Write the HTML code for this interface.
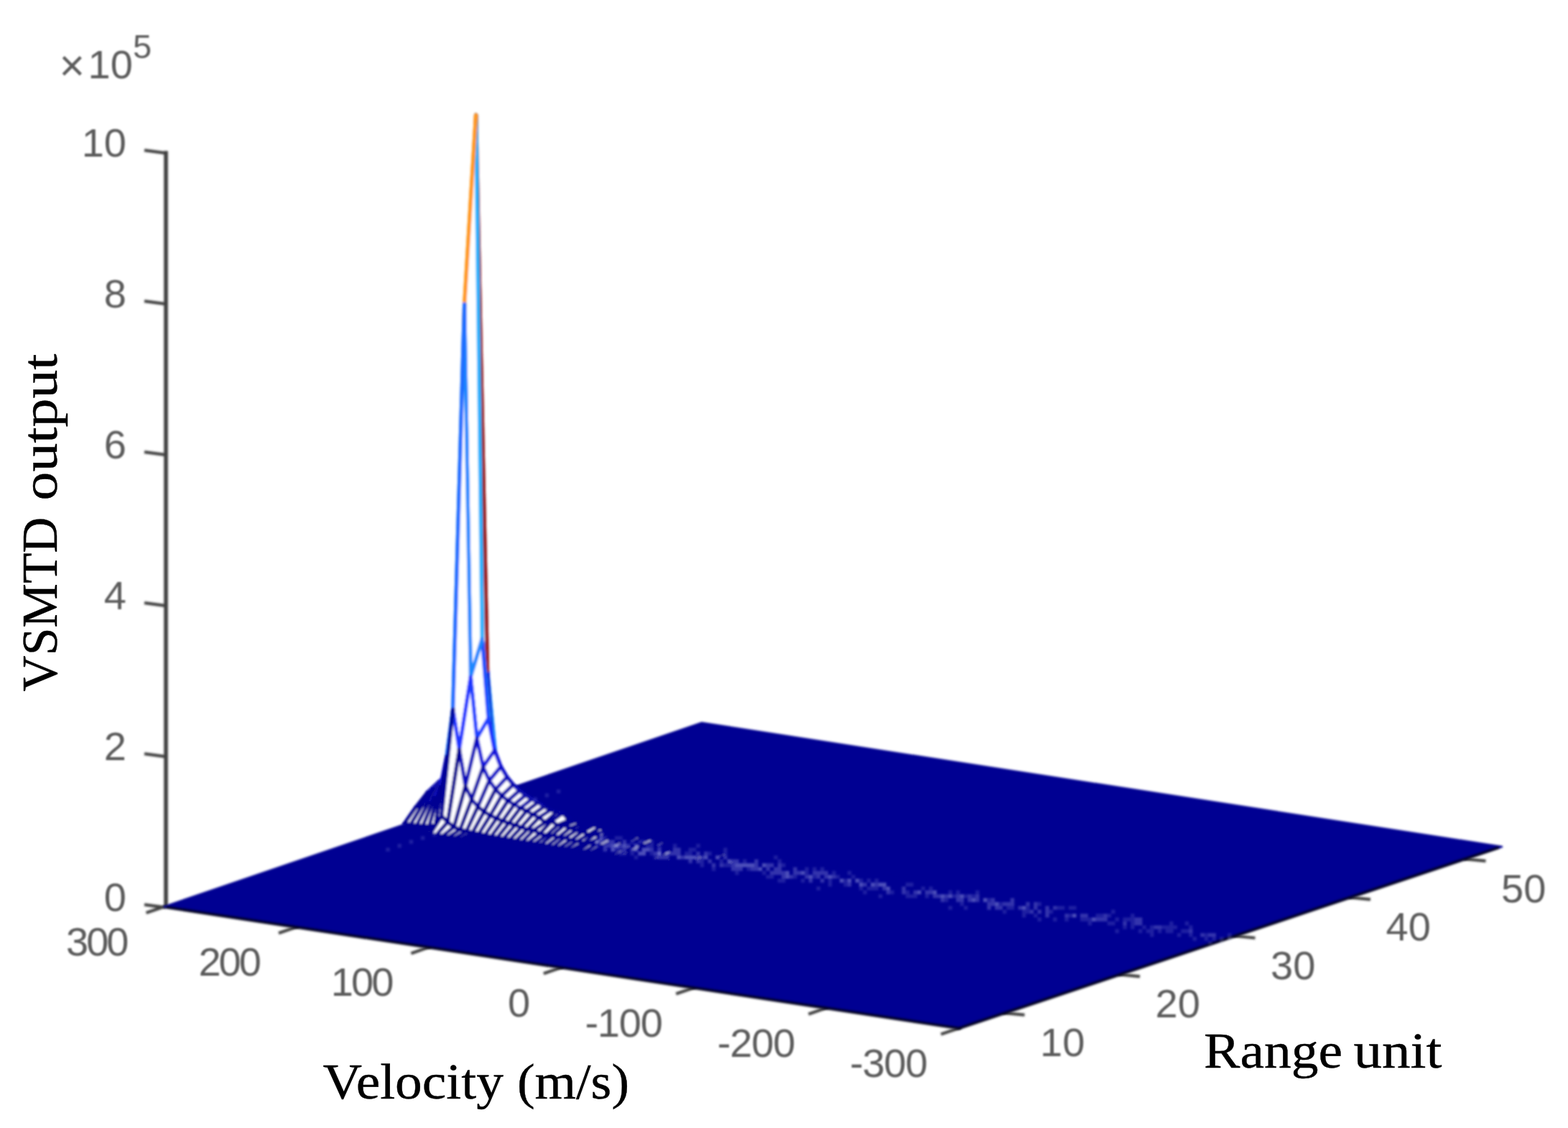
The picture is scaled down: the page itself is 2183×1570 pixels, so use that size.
<!DOCTYPE html>
<html lang="en"><head><meta charset="utf-8"><title>VSMTD output</title>
<style>html,body{margin:0;padding:0;background:#fff;overflow:hidden}svg{display:block}.tl{font-family:"Liberation Sans",sans-serif;font-size:56px;fill:#5c5c5c}.ax{font-family:"Liberation Serif",serif;font-size:70px;fill:#000;stroke:#000;stroke-width:0.4px}</style></head><body>
<svg width="2183" height="1570" viewBox="0 0 2183 1570">
<defs><filter id="b1" x="-5%" y="-5%" width="110%" height="110%"><feGaussianBlur stdDeviation="1.6"/></filter><filter id="b2" x="-20%" y="-20%" width="140%" height="140%"><feGaussianBlur stdDeviation="1.3"/></filter><filter id="b4" x="-20%" y="-20%" width="140%" height="140%"><feGaussianBlur stdDeviation="1.7"/></filter><filter id="b3" x="-5%" y="-5%" width="110%" height="110%"><feGaussianBlur stdDeviation="1.4"/></filter></defs>
<rect width="2183" height="1570" fill="#fff"/>
<g filter="url(#b1)" stroke="#404040" stroke-width="5.6" fill="none" stroke-linecap="butt">
<line x1="231" y1="210" x2="231" y2="1263"/>
<line x1="231" y1="1263.2" x2="201" y2="1259.2" stroke-width="4.2"/>
<line x1="231" y1="1053.2" x2="201" y2="1049.2" stroke-width="4.2"/>
<line x1="231" y1="843.2" x2="201" y2="839.2" stroke-width="4.2"/>
<line x1="231" y1="633.2" x2="201" y2="629.2" stroke-width="4.2"/>
<line x1="231" y1="423.2" x2="201" y2="419.2" stroke-width="4.2"/>
<line x1="231" y1="213.2" x2="201" y2="209.2" stroke-width="4.2"/>
<line x1="231.5" y1="1261.0" x2="203.5" y2="1270.6" stroke-width="4.2"/>
<line x1="415.9" y1="1289.2" x2="387.9" y2="1298.8" stroke-width="4.2"/>
<line x1="600.3" y1="1317.3" x2="572.3" y2="1326.9" stroke-width="4.2"/>
<line x1="784.8" y1="1345.5" x2="756.8" y2="1355.1" stroke-width="4.2"/>
<line x1="969.2" y1="1373.7" x2="941.2" y2="1383.3" stroke-width="4.2"/>
<line x1="1153.6" y1="1401.8" x2="1125.6" y2="1411.4" stroke-width="4.2"/>
<line x1="1338.0" y1="1430.0" x2="1310.0" y2="1439.6" stroke-width="4.2"/>
<line x1="2038.0" y1="1195.3" x2="2068.5" y2="1198.3" stroke-width="4.2"/>
<line x1="1877.5" y1="1248.9" x2="1908.0" y2="1251.9" stroke-width="4.2"/>
<line x1="1717.0" y1="1302.5" x2="1747.5" y2="1305.5" stroke-width="4.2"/>
<line x1="1556.5" y1="1356.1" x2="1587.0" y2="1359.1" stroke-width="4.2"/>
<line x1="1396.0" y1="1409.7" x2="1426.5" y2="1412.7" stroke-width="4.2"/>
</g>
<g filter="url(#b1)">
<polygon points="228.5,1262.0 977.0,1006.0 2091.0,1178.5 1335.0,1431.0" fill="#000092" stroke="#000092" stroke-width="2.6" stroke-linejoin="round"/>
<polyline points="231.5,1262.6 1335.0,1431.2 2087.0,1179.5" fill="none" stroke="#04041c" stroke-opacity="0.9" stroke-width="4.4" stroke-linejoin="round"/>
</g>
<g filter="url(#b4)" fill="#fff" stroke="#000092" stroke-width="5.3" stroke-linecap="round" stroke-linejoin="round">
<path d="M651.2 1119.5L659.9 1120.3 675.8 1117.6 667.1 1116.3Z"/>
<path d="M659.9 1120.3L668.5 1120.7 684.4 1118.9 675.8 1117.6Z"/>
<path d="M668.5 1120.7L677.1 1120.4 693.1 1120.2 684.4 1118.9Z"/>
<path d="M677.1 1120.4L685.8 1117.4 701.7 1121.5 693.1 1120.2Z"/>
<path d="M685.8 1117.4L694.4 1098.9 710.4 1122.9 701.7 1121.5Z" stroke="none"/>
<path d="M685.8 1117.4L694.4 1098.9" stroke="#08089b"/>
<path d="M694.4 1098.9L710.4 1122.9" stroke="#08089b"/>
<path d="M710.4 1122.9L701.7 1121.5"/>
<path d="M701.7 1121.5L685.8 1117.4"/>
<path d="M694.4 1098.9L703.1 1119.6 719 1124.2 710.4 1122.9Z" stroke="none"/>
<path d="M694.4 1098.9L703.1 1119.6"/>
<path d="M703.1 1119.6L719 1124.2"/>
<path d="M719 1124.2L710.4 1122.9"/>
<path d="M710.4 1122.9L694.4 1098.9" stroke="#08089b"/>
<path d="M703.1 1119.6L711.7 1125.4 727.6 1125.5 719 1124.2Z"/>
<path d="M711.7 1125.4L720.4 1128.3 736.3 1126.8 727.6 1125.5Z"/>
<path d="M720.4 1128.3L729 1130.5 744.9 1128.1 736.3 1126.8Z"/>
<path d="M729 1130.5L737.7 1132.3 753.6 1129.5 744.9 1128.1Z"/>
<path d="M737.7 1132.3L746.3 1134 762.2 1130.8 753.6 1129.5Z"/>
<path d="M626.6 1111L635.3 1109.4 651.2 1119.5 642.6 1118.5Z"/>
<path d="M635.3 1109.4L643.9 1106.5 659.9 1120.3 651.2 1119.5Z" stroke="none"/>
<path d="M635.3 1109.4L643.9 1106.5" stroke="#06069a"/>
<path d="M643.9 1106.5L659.9 1120.3" stroke="#06069a"/>
<path d="M659.9 1120.3L651.2 1119.5"/>
<path d="M651.2 1119.5L635.3 1109.4"/>
<path d="M643.9 1106.5L652.6 1101 668.5 1120.7 659.9 1120.3Z" stroke="none"/>
<path d="M643.9 1106.5L652.6 1101" stroke="#07079a"/>
<path d="M652.6 1101L668.5 1120.7" stroke="#07079a"/>
<path d="M668.5 1120.7L659.9 1120.3"/>
<path d="M659.9 1120.3L643.9 1106.5" stroke="#06069a"/>
<path d="M652.6 1101L661.2 1089.2 677.1 1120.4 668.5 1120.7Z" stroke="none"/>
<path d="M652.6 1101L661.2 1089.2" stroke="#0b0bab"/>
<path d="M661.2 1089.2L677.1 1120.4" stroke="#0b0bab"/>
<path d="M677.1 1120.4L668.5 1120.7"/>
<path d="M668.5 1120.7L652.6 1101" stroke="#07079a"/>
<path d="M661.2 1089.2L669.9 1055.6 685.8 1117.4 677.1 1120.4Z" stroke="none"/>
<path d="M661.2 1089.2L669.9 1055.6" stroke="#1414da"/>
<path d="M669.9 1055.6L685.8 1117.4" stroke="#1414da"/>
<path d="M685.8 1117.4L677.1 1120.4"/>
<path d="M677.1 1120.4L661.2 1089.2" stroke="#0b0bab"/>
<path d="M669.9 1055.6L678.5 933.2 694.4 1098.9 685.8 1117.4Z" stroke="none"/>
<path d="M669.9 1055.6L678.5 933.2" stroke="#1f88ff"/>
<path d="M678.5 933.2L694.4 1098.9" stroke="#1f88ff"/>
<path d="M694.4 1098.9L685.8 1117.4" stroke="#08089b"/>
<path d="M685.8 1117.4L669.9 1055.6" stroke="#1414da"/>
<path d="M678.5 933.2L687.2 1072.3 703.1 1119.6 694.4 1098.9Z" stroke="none"/>
<path d="M678.5 933.2L687.2 1072.3" stroke="#1010cb"/>
<path d="M687.2 1072.3L703.1 1119.6" stroke="#1010cb"/>
<path d="M703.1 1119.6L694.4 1098.9"/>
<path d="M694.4 1098.9L678.5 933.2" stroke="#1f88ff"/>
<path d="M687.2 1072.3L695.8 1101.6 711.7 1125.4 703.1 1119.6Z" stroke="none"/>
<path d="M687.2 1072.3L695.8 1101.6" stroke="#0909aa"/>
<path d="M695.8 1101.6L711.7 1125.4" stroke="#0909aa"/>
<path d="M711.7 1125.4L703.1 1119.6"/>
<path d="M703.1 1119.6L687.2 1072.3" stroke="#1010cb"/>
<path d="M695.8 1101.6L704.4 1113 720.4 1128.3 711.7 1125.4Z" stroke="none"/>
<path d="M695.8 1101.6L704.4 1113" stroke="#06069a"/>
<path d="M704.4 1113L720.4 1128.3" stroke="#06069a"/>
<path d="M720.4 1128.3L711.7 1125.4"/>
<path d="M711.7 1125.4L695.8 1101.6" stroke="#0909aa"/>
<path d="M704.4 1113L713.1 1119.7 729 1130.5 720.4 1128.3Z" stroke="none"/>
<path d="M704.4 1113L713.1 1119.7"/>
<path d="M713.1 1119.7L729 1130.5"/>
<path d="M729 1130.5L720.4 1128.3"/>
<path d="M720.4 1128.3L704.4 1113" stroke="#06069a"/>
<path d="M713.1 1119.7L721.7 1124.4 737.7 1132.3 729 1130.5Z"/>
<path d="M721.7 1124.4L730.4 1128 746.3 1134 737.7 1132.3Z"/>
<path d="M730.4 1128L739 1131 754.9 1135.6 746.3 1134Z"/>
<path d="M739 1131L747.7 1133.6 763.6 1137.2 754.9 1135.6Z"/>
<path d="M747.7 1133.6L756.3 1135.9 772.2 1138.6 763.6 1137.2Z"/>
<path d="M756.3 1135.9L765 1138.1 780.9 1140.1 772.2 1138.6Z"/>
<path d="M765 1138.1L773.6 1140.5 789.5 1141.6 780.9 1140.1Z"/>
<path d="M773.6 1140.5L782.2 1142.7 798.2 1143 789.5 1141.6Z"/>
<path d="M782.2 1142.7L790.9 1145.7 806.8 1144.7 798.2 1143Z"/>
<path d="M790.9 1145.7L799.5 1145.7 815.5 1146 806.8 1144.7Z"/>
<path d="M799.5 1145.7L808.2 1147.8 824.1 1147.4 815.5 1146Z"/>
<path d="M808.2 1147.8L816.8 1150 832.7 1148.6 824.1 1147.4Z"/>
<path d="M816.8 1150L825.5 1151.3 841.4 1150.2 832.7 1148.6Z"/>
<path d="M825.5 1151.3L834.1 1153.9 850 1151.3 841.4 1150.2Z"/>
<path d="M834.1 1153.9L842.8 1155 858.7 1152.8 850 1151.3Z"/>
<path d="M842.8 1155L851.4 1157.4 867.3 1154.3 858.7 1152.8Z"/>
<path d="M851.4 1157.4L860 1158.8 876 1155.4 867.3 1154.3Z"/>
<path d="M860 1158.8L868.7 1160.1 884.6 1156.9 876 1155.4Z"/>
<path d="M868.7 1160.1L877.3 1161.8 893.3 1158.2 884.6 1156.9Z"/>
<path d="M610.7 1088.5L619.4 1081.6 635.3 1109.4 626.6 1111Z" stroke="none"/>
<path d="M610.7 1088.5L619.4 1081.6" stroke="#0d0dbb"/>
<path d="M619.4 1081.6L635.3 1109.4" stroke="#0d0dbb"/>
<path d="M635.3 1109.4L626.6 1111"/>
<path d="M626.6 1111L610.7 1088.5" stroke="#0b0bab"/>
<path d="M619.4 1081.6L628 1070.8 643.9 1106.5 635.3 1109.4Z" stroke="none"/>
<path d="M619.4 1081.6L628 1070.8" stroke="#1010cb"/>
<path d="M628 1070.8L643.9 1106.5" stroke="#1010cb"/>
<path d="M643.9 1106.5L635.3 1109.4" stroke="#06069a"/>
<path d="M635.3 1109.4L619.4 1081.6" stroke="#0d0dbb"/>
<path d="M628 1070.8L636.6 1052.4 652.6 1101 643.9 1106.5Z" stroke="none"/>
<path d="M628 1070.8L636.6 1052.4" stroke="#1616db"/>
<path d="M636.6 1052.4L652.6 1101" stroke="#1616db"/>
<path d="M652.6 1101L643.9 1106.5" stroke="#07079a"/>
<path d="M643.9 1106.5L628 1070.8" stroke="#1010cb"/>
<path d="M636.6 1052.4L645.3 1016 661.2 1089.2 652.6 1101Z" stroke="none"/>
<path d="M636.6 1052.4L645.3 1016" stroke="#1f42ff"/>
<path d="M645.3 1016L661.2 1089.2" stroke="#1f42ff"/>
<path d="M661.2 1089.2L652.6 1101" stroke="#0b0bab"/>
<path d="M652.6 1101L636.6 1052.4" stroke="#1616db"/>
<path d="M645.3 1016L653.9 916.9 669.9 1055.6 661.2 1089.2Z" stroke="none"/>
<path d="M645.3 1016L653.9 916.9" stroke="#1f96ff"/>
<path d="M653.9 916.9L669.9 1055.6" stroke="#1f96ff"/>
<path d="M669.9 1055.6L661.2 1089.2" stroke="#1414da"/>
<path d="M661.2 1089.2L645.3 1016" stroke="#1f42ff"/>
<path d="M653.9 916.9L662.6 160.1 678.5 933.2 669.9 1055.6Z" stroke="none"/>
<path d="M653.9 916.9L662.6 160.1" stroke="#961f1f"/>
<path d="M662.6 160.1L678.5 933.2" stroke="#961f1f"/>
<path d="M678.5 933.2L669.9 1055.6" stroke="#1f88ff"/>
<path d="M669.9 1055.6L653.9 916.9" stroke="#1f96ff"/>
<path d="M662.6 160.1L671.2 889.6 687.2 1072.3 678.5 933.2Z" stroke="none"/>
<path d="M662.6 160.1L671.2 889.6" stroke="#1fb2ff"/>
<path d="M671.2 889.6L687.2 1072.3" stroke="#1fb2ff"/>
<path d="M687.2 1072.3L678.5 933.2" stroke="#1010cb"/>
<path d="M678.5 933.2L662.6 160.1" stroke="#961f1f"/>
<path d="M671.2 889.6L679.9 1000.1 695.8 1101.6 687.2 1072.3Z" stroke="none"/>
<path d="M671.2 889.6L679.9 1000.1" stroke="#1f50ff"/>
<path d="M679.9 1000.1L695.8 1101.6" stroke="#1f50ff"/>
<path d="M695.8 1101.6L687.2 1072.3" stroke="#0909aa"/>
<path d="M687.2 1072.3L671.2 889.6" stroke="#1fb2ff"/>
<path d="M679.9 1000.1L688.5 1044.4 704.4 1113 695.8 1101.6Z" stroke="none"/>
<path d="M679.9 1000.1L688.5 1044.4" stroke="#1f34ff"/>
<path d="M688.5 1044.4L704.4 1113" stroke="#1f34ff"/>
<path d="M704.4 1113L695.8 1101.6" stroke="#06069a"/>
<path d="M695.8 1101.6L679.9 1000.1" stroke="#1f50ff"/>
<path d="M688.5 1044.4L697.2 1067.2 713.1 1119.7 704.4 1113Z" stroke="none"/>
<path d="M688.5 1044.4L697.2 1067.2" stroke="#1414da"/>
<path d="M697.2 1067.2L713.1 1119.7" stroke="#1414da"/>
<path d="M713.1 1119.7L704.4 1113"/>
<path d="M704.4 1113L688.5 1044.4" stroke="#1f34ff"/>
<path d="M697.2 1067.2L705.8 1081.8 721.7 1124.4 713.1 1119.7Z" stroke="none"/>
<path d="M697.2 1067.2L705.8 1081.8" stroke="#1111cb"/>
<path d="M705.8 1081.8L721.7 1124.4" stroke="#1111cb"/>
<path d="M721.7 1124.4L713.1 1119.7"/>
<path d="M713.1 1119.7L697.2 1067.2" stroke="#1414da"/>
<path d="M705.8 1081.8L714.4 1092.3 730.4 1128 721.7 1124.4Z" stroke="none"/>
<path d="M705.8 1081.8L714.4 1092.3" stroke="#0e0ebb"/>
<path d="M714.4 1092.3L730.4 1128" stroke="#0e0ebb"/>
<path d="M730.4 1128L721.7 1124.4"/>
<path d="M721.7 1124.4L705.8 1081.8" stroke="#1111cb"/>
<path d="M714.4 1092.3L723.1 1100.4 739 1131 730.4 1128Z" stroke="none"/>
<path d="M714.4 1092.3L723.1 1100.4" stroke="#0c0cbb"/>
<path d="M723.1 1100.4L739 1131" stroke="#0c0cbb"/>
<path d="M739 1131L730.4 1128"/>
<path d="M730.4 1128L714.4 1092.3" stroke="#0e0ebb"/>
<path d="M723.1 1100.4L731.7 1106.9 747.7 1133.6 739 1131Z" stroke="none"/>
<path d="M723.1 1100.4L731.7 1106.9" stroke="#0b0bab"/>
<path d="M731.7 1106.9L747.7 1133.6" stroke="#0b0bab"/>
<path d="M747.7 1133.6L739 1131"/>
<path d="M739 1131L723.1 1100.4" stroke="#0c0cbb"/>
<path d="M731.7 1106.9L740.4 1112.3 756.3 1135.9 747.7 1133.6Z" stroke="none"/>
<path d="M731.7 1106.9L740.4 1112.3" stroke="#0a0aab"/>
<path d="M740.4 1112.3L756.3 1135.9" stroke="#0a0aab"/>
<path d="M756.3 1135.9L747.7 1133.6"/>
<path d="M747.7 1133.6L731.7 1106.9" stroke="#0b0bab"/>
<path d="M740.4 1112.3L749 1116.9 765 1138.1 756.3 1135.9Z" stroke="none"/>
<path d="M740.4 1112.3L749 1116.9" stroke="#0909ab"/>
<path d="M749 1116.9L765 1138.1" stroke="#0909ab"/>
<path d="M765 1138.1L756.3 1135.9"/>
<path d="M756.3 1135.9L740.4 1112.3" stroke="#0a0aab"/>
<path d="M749 1116.9L757.7 1122.7 773.6 1140.5 765 1138.1Z" stroke="none"/>
<path d="M749 1116.9L757.7 1122.7" stroke="#0808aa"/>
<path d="M757.7 1122.7L773.6 1140.5" stroke="#0808aa"/>
<path d="M773.6 1140.5L765 1138.1"/>
<path d="M765 1138.1L749 1116.9" stroke="#0909ab"/>
<path d="M757.7 1122.7L766.3 1127.6 782.2 1142.7 773.6 1140.5Z" stroke="none"/>
<path d="M757.7 1122.7L766.3 1127.6" stroke="#07079a"/>
<path d="M766.3 1127.6L782.2 1142.7" stroke="#07079a"/>
<path d="M782.2 1142.7L773.6 1140.5"/>
<path d="M773.6 1140.5L757.7 1122.7" stroke="#0808aa"/>
<path d="M766.3 1127.6L775 1130.6 790.9 1145.7 782.2 1142.7Z" stroke="none"/>
<path d="M766.3 1127.6L775 1130.6" stroke="#07079a"/>
<path d="M775 1130.6L790.9 1145.7" stroke="#07079a"/>
<path d="M790.9 1145.7L782.2 1142.7"/>
<path d="M782.2 1142.7L766.3 1127.6" stroke="#07079a"/>
<path d="M775 1130.6L783.6 1131.7 799.5 1145.7 790.9 1145.7Z" stroke="none"/>
<path d="M775 1130.6L783.6 1131.7" stroke="#07079a"/>
<path d="M783.6 1131.7L799.5 1145.7" stroke="#07079a"/>
<path d="M799.5 1145.7L790.9 1145.7"/>
<path d="M790.9 1145.7L775 1130.6" stroke="#07079a"/>
<path d="M783.6 1131.7L792.2 1141.7 808.2 1147.8 799.5 1145.7Z" stroke="none"/>
<path d="M783.6 1131.7L792.2 1141.7"/>
<path d="M792.2 1141.7L808.2 1147.8"/>
<path d="M808.2 1147.8L799.5 1145.7"/>
<path d="M799.5 1145.7L783.6 1131.7" stroke="#07079a"/>
<path d="M792.2 1141.7L800.9 1143.1 816.8 1150 808.2 1147.8Z"/>
<path d="M800.9 1143.1L809.5 1146.5 825.5 1151.3 816.8 1150Z"/>
<path d="M809.5 1146.5L818.2 1147.9 834.1 1153.9 825.5 1151.3Z"/>
<path d="M818.2 1147.9L826.8 1148.6 842.8 1155 834.1 1153.9Z"/>
<path d="M826.8 1148.6L835.5 1151.5 851.4 1157.4 842.8 1155Z"/>
<path d="M835.5 1151.5L844.1 1156.6 860 1158.8 851.4 1157.4Z"/>
<path d="M844.1 1156.6L852.8 1157.6 868.7 1160.1 860 1158.8Z"/>
<path d="M852.8 1157.6L861.4 1160.3 877.3 1161.8 868.7 1160.1Z"/>
<path d="M861.4 1160.3L870 1161.5 886 1163.3 877.3 1161.8Z"/>
<path d="M870 1161.5L878.7 1163 894.6 1164.8 886 1163.3Z"/>
<path d="M878.7 1163L887.3 1163 903.3 1165.8 894.6 1164.8Z"/>
<path d="M887.3 1163L896 1165.3 911.9 1167.6 903.3 1165.8Z"/>
<path d="M896 1165.3L904.6 1166.4 920.6 1168.8 911.9 1167.6Z"/>
<path d="M904.6 1166.4L913.3 1169.9 929.2 1170.1 920.6 1168.8Z"/>
<path d="M913.3 1169.9L921.9 1170.2 937.8 1171.8 929.2 1170.1Z"/>
<path d="M921.9 1170.2L930.6 1172.4 946.5 1173.1 937.8 1171.8Z"/>
<path d="M930.6 1172.4L939.2 1174.2 955.1 1174.1 946.5 1173.1Z"/>
<path d="M939.2 1174.2L947.8 1176.4 963.8 1175.6 955.1 1174.1Z"/>
<path d="M947.8 1176.4L956.5 1178.3 972.4 1176.8 963.8 1175.6Z"/>
<path d="M956.5 1178.3L965.1 1179.5 981.1 1178.5 972.4 1176.8Z"/>
<path d="M965.1 1179.5L973.8 1179.8 989.7 1179.8 981.1 1178.5Z"/>
<path d="M973.8 1179.8L982.4 1182 998.4 1181 989.7 1179.8Z"/>
<path d="M982.4 1182L991.1 1184 1007 1182.5 998.4 1181Z"/>
<path d="M991.1 1184L999.7 1185.5 1015.6 1183.8 1007 1182.5Z"/>
<path d="M999.7 1185.5L1008.4 1186.1 1024.3 1185.2 1015.6 1183.8Z"/>
<path d="M1008.4 1186.1L1017 1188.7 1032.9 1186.8 1024.3 1185.2Z"/>
<path d="M1017 1188.7L1025.7 1189.5 1041.6 1188 1032.9 1186.8Z"/>
<path d="M1025.7 1189.5L1034.3 1192.2 1050.2 1189.4 1041.6 1188Z"/>
<path d="M1034.3 1192.2L1042.9 1192 1058.9 1190.7 1050.2 1189.4Z"/>
<path d="M1042.9 1192L1051.6 1194.6 1067.5 1192.2 1058.9 1190.7Z"/>
<path d="M1051.6 1194.6L1060.2 1195 1076.2 1193.4 1067.5 1192.2Z"/>
<path d="M1060.2 1195L1068.9 1197.2 1084.8 1194.8 1076.2 1193.4Z"/>
<path d="M1068.9 1197.2L1077.5 1199.4 1093.4 1196.2 1084.8 1194.8Z"/>
<path d="M1077.5 1199.4L1086.2 1200.7 1102.1 1197.6 1093.4 1196.2Z"/>
<path d="M1086.2 1200.7L1094.8 1201.8 1110.7 1198.9 1102.1 1197.6Z"/>
<path d="M1094.8 1201.8L1103.5 1202.5 1119.4 1200.1 1110.7 1198.9Z"/>
<path d="M1103.5 1202.5L1112.1 1204.3 1128 1201.6 1119.4 1200.1Z"/>
<path d="M1112.1 1204.3L1120.7 1205.5 1136.7 1202.9 1128 1201.6Z"/>
<path d="M1120.7 1205.5L1129.4 1206.6 1145.3 1204.2 1136.7 1202.9Z"/>
<path d="M1129.4 1206.6L1138 1208.3 1154 1205.6 1145.3 1204.2Z"/>
<path d="M1138 1208.3L1146.7 1209.9 1162.6 1207 1154 1205.6Z"/>
<path d="M1146.7 1209.9L1155.3 1210.9 1171.2 1208.2 1162.6 1207Z"/>
<path d="M1155.3 1210.9L1164 1213 1179.9 1209.6 1171.2 1208.2Z"/>
<path d="M1164 1213L1172.6 1214 1188.5 1210.8 1179.9 1209.6Z"/>
<path d="M1172.6 1214L1181.3 1215.3 1197.2 1212.1 1188.5 1210.8Z"/>
<path d="M1181.3 1215.3L1189.9 1216.7 1205.8 1213.5 1197.2 1212.1Z"/>
<path d="M1189.9 1216.7L1198.5 1218.4 1214.5 1215 1205.8 1213.5Z"/>
<path d="M1198.5 1218.4L1207.2 1219.5 1223.1 1216.3 1214.5 1215Z"/>
<path d="M1207.2 1219.5L1215.8 1221.2 1231.8 1217.7 1223.1 1216.3Z"/>
<path d="M1215.8 1221.2L1224.5 1222.5 1240.4 1218.9 1231.8 1217.7Z"/>
<path d="M1224.5 1222.5L1233.1 1223.6 1249 1220.2 1240.4 1218.9Z"/>
<path d="M1233.1 1223.6L1241.8 1225.3 1257.7 1221.7 1249 1220.2Z"/>
<path d="M1250.4 1227L1259.1 1227.6 1275 1224.3 1266.3 1223Z"/>
<path d="M1259.1 1227.6L1267.7 1229.5 1283.6 1225.6 1275 1224.3Z"/>
<path d="M594.8 1103.3L603.4 1098.1 619.4 1081.6 610.7 1088.5Z" stroke="none"/>
<path d="M594.8 1103.3L603.4 1098.1" stroke="#0a0aab"/>
<path d="M603.4 1098.1L619.4 1081.6" stroke="#0a0aab"/>
<path d="M619.4 1081.6L610.7 1088.5" stroke="#0d0dbb"/>
<path d="M610.7 1088.5L594.8 1103.3" stroke="#0909aa"/>
<path d="M603.4 1098.1L612.1 1090 628 1070.8 619.4 1081.6Z" stroke="none"/>
<path d="M603.4 1098.1L612.1 1090" stroke="#0d0dbb"/>
<path d="M612.1 1090L628 1070.8" stroke="#0d0dbb"/>
<path d="M628 1070.8L619.4 1081.6" stroke="#1010cb"/>
<path d="M619.4 1081.6L603.4 1098.1" stroke="#0a0aab"/>
<path d="M612.1 1090L620.7 1075.8 636.6 1052.4 628 1070.8Z" stroke="none"/>
<path d="M612.1 1090L620.7 1075.8" stroke="#1111cb"/>
<path d="M620.7 1075.8L636.6 1052.4" stroke="#1111cb"/>
<path d="M636.6 1052.4L628 1070.8" stroke="#1616db"/>
<path d="M628 1070.8L612.1 1090" stroke="#0d0dbb"/>
<path d="M620.7 1075.8L629.4 1047.7 645.3 1016 636.6 1052.4Z" stroke="none"/>
<path d="M620.7 1075.8L629.4 1047.7" stroke="#1919e9"/>
<path d="M629.4 1047.7L645.3 1016" stroke="#1919e9"/>
<path d="M645.3 1016L636.6 1052.4" stroke="#1f42ff"/>
<path d="M636.6 1052.4L620.7 1075.8" stroke="#1111cb"/>
<path d="M629.4 1047.7L638 970.4 653.9 916.9 645.3 1016Z" stroke="none"/>
<path d="M629.4 1047.7L638 970.4" stroke="#1f6cff"/>
<path d="M638 970.4L653.9 916.9" stroke="#1f6cff"/>
<path d="M653.9 916.9L645.3 1016" stroke="#1f96ff"/>
<path d="M645.3 1016L629.4 1047.7" stroke="#1919e9"/>
<path d="M638 970.4L646.7 423.3 662.6 160.1 653.9 916.9Z" stroke="none"/>
<path d="M638 970.4L646.7 423.3" stroke="#ff961f"/>
<path d="M646.7 423.3L662.6 160.1" stroke="#ff961f"/>
<path d="M662.6 160.1L653.9 916.9" stroke="#961f1f"/>
<path d="M653.9 916.9L638 970.4" stroke="#1f6cff"/>
<path d="M646.7 423.3L655.3 942.3 671.2 889.6 662.6 160.1Z" stroke="none"/>
<path d="M646.7 423.3L655.3 942.3" stroke="#1f88ff"/>
<path d="M655.3 942.3L671.2 889.6" stroke="#1f88ff"/>
<path d="M671.2 889.6L662.6 160.1" stroke="#1fb2ff"/>
<path d="M662.6 160.1L646.7 423.3" stroke="#ff961f"/>
<path d="M655.3 942.3L663.9 1027.6 679.9 1000.1 671.2 889.6Z" stroke="none"/>
<path d="M655.3 942.3L663.9 1027.6" stroke="#1f42ff"/>
<path d="M663.9 1027.6L679.9 1000.1" stroke="#1f42ff"/>
<path d="M679.9 1000.1L671.2 889.6" stroke="#1f50ff"/>
<path d="M671.2 889.6L655.3 942.3" stroke="#1f88ff"/>
<path d="M663.9 1027.6L672.6 1067.6 688.5 1044.4 679.9 1000.1Z" stroke="none"/>
<path d="M663.9 1027.6L672.6 1067.6" stroke="#1515da"/>
<path d="M672.6 1067.6L688.5 1044.4" stroke="#1515da"/>
<path d="M688.5 1044.4L679.9 1000.1" stroke="#1f34ff"/>
<path d="M679.9 1000.1L663.9 1027.6" stroke="#1f42ff"/>
<path d="M672.6 1067.6L681.2 1086.5 697.2 1067.2 688.5 1044.4Z" stroke="none"/>
<path d="M672.6 1067.6L681.2 1086.5" stroke="#1010cb"/>
<path d="M681.2 1086.5L697.2 1067.2" stroke="#1010cb"/>
<path d="M697.2 1067.2L688.5 1044.4" stroke="#1414da"/>
<path d="M688.5 1044.4L672.6 1067.6" stroke="#1515da"/>
<path d="M681.2 1086.5L689.9 1098.8 705.8 1081.8 697.2 1067.2Z" stroke="none"/>
<path d="M681.2 1086.5L689.9 1098.8" stroke="#0e0ebb"/>
<path d="M689.9 1098.8L705.8 1081.8" stroke="#0e0ebb"/>
<path d="M705.8 1081.8L697.2 1067.2" stroke="#1111cb"/>
<path d="M697.2 1067.2L681.2 1086.5" stroke="#1010cb"/>
<path d="M689.9 1098.8L698.5 1107.7 714.4 1092.3 705.8 1081.8Z" stroke="none"/>
<path d="M689.9 1098.8L698.5 1107.7" stroke="#0c0cab"/>
<path d="M698.5 1107.7L714.4 1092.3" stroke="#0c0cab"/>
<path d="M714.4 1092.3L705.8 1081.8" stroke="#0e0ebb"/>
<path d="M705.8 1081.8L689.9 1098.8" stroke="#0e0ebb"/>
<path d="M698.5 1107.7L707.2 1114.5 723.1 1100.4 714.4 1092.3Z" stroke="none"/>
<path d="M698.5 1107.7L707.2 1114.5" stroke="#0a0aab"/>
<path d="M707.2 1114.5L723.1 1100.4" stroke="#0a0aab"/>
<path d="M723.1 1100.4L714.4 1092.3" stroke="#0c0cbb"/>
<path d="M714.4 1092.3L698.5 1107.7" stroke="#0c0cab"/>
<path d="M707.2 1114.5L715.8 1120 731.7 1106.9 723.1 1100.4Z" stroke="none"/>
<path d="M707.2 1114.5L715.8 1120" stroke="#0909aa"/>
<path d="M715.8 1120L731.7 1106.9" stroke="#0909aa"/>
<path d="M731.7 1106.9L723.1 1100.4" stroke="#0b0bab"/>
<path d="M723.1 1100.4L707.2 1114.5" stroke="#0a0aab"/>
<path d="M715.8 1120L724.5 1124.7 740.4 1112.3 731.7 1106.9Z" stroke="none"/>
<path d="M715.8 1120L724.5 1124.7" stroke="#0808aa"/>
<path d="M724.5 1124.7L740.4 1112.3" stroke="#0808aa"/>
<path d="M740.4 1112.3L731.7 1106.9" stroke="#0a0aab"/>
<path d="M731.7 1106.9L715.8 1120" stroke="#0909aa"/>
<path d="M724.5 1124.7L733.1 1128.8 749 1116.9 740.4 1112.3Z" stroke="none"/>
<path d="M724.5 1124.7L733.1 1128.8" stroke="#08089a"/>
<path d="M733.1 1128.8L749 1116.9" stroke="#08089a"/>
<path d="M749 1116.9L740.4 1112.3" stroke="#0909ab"/>
<path d="M740.4 1112.3L724.5 1124.7" stroke="#0808aa"/>
<path d="M733.1 1128.8L741.7 1133.7 757.7 1122.7 749 1116.9Z" stroke="none"/>
<path d="M733.1 1128.8L741.7 1133.7" stroke="#07079a"/>
<path d="M741.7 1133.7L757.7 1122.7" stroke="#07079a"/>
<path d="M757.7 1122.7L749 1116.9" stroke="#0808aa"/>
<path d="M749 1116.9L733.1 1128.8" stroke="#08089a"/>
<path d="M741.7 1133.7L750.4 1137.9 766.3 1127.6 757.7 1122.7Z" stroke="none"/>
<path d="M741.7 1133.7L750.4 1137.9" stroke="#06069a"/>
<path d="M750.4 1137.9L766.3 1127.6" stroke="#06069a"/>
<path d="M766.3 1127.6L757.7 1122.7" stroke="#07079a"/>
<path d="M757.7 1122.7L741.7 1133.7" stroke="#07079a"/>
<path d="M750.4 1137.9L759 1144.6 775 1130.6 766.3 1127.6Z" stroke="none"/>
<path d="M750.4 1137.9L759 1144.6"/>
<path d="M759 1144.6L775 1130.6"/>
<path d="M775 1130.6L766.3 1127.6" stroke="#07079a"/>
<path d="M766.3 1127.6L750.4 1137.9" stroke="#06069a"/>
<path d="M759 1144.6L767.7 1143.1 783.6 1131.7 775 1130.6Z" stroke="none"/>
<path d="M759 1144.6L767.7 1143.1" stroke="#05059a"/>
<path d="M767.7 1143.1L783.6 1131.7" stroke="#05059a"/>
<path d="M783.6 1131.7L775 1130.6" stroke="#07079a"/>
<path d="M775 1130.6L759 1144.6"/>
<path d="M767.7 1143.1L776.3 1148.4 792.2 1141.7 783.6 1131.7Z" stroke="none"/>
<path d="M767.7 1143.1L776.3 1148.4"/>
<path d="M776.3 1148.4L792.2 1141.7"/>
<path d="M792.2 1141.7L783.6 1131.7"/>
<path d="M783.6 1131.7L767.7 1143.1" stroke="#05059a"/>
<path d="M776.3 1148.4L785 1148.9 800.9 1143.1 792.2 1141.7Z"/>
<path d="M785 1148.9L793.6 1152.7 809.5 1146.5 800.9 1143.1Z"/>
<path d="M793.6 1152.7L802.3 1155.7 818.2 1147.9 809.5 1146.5Z"/>
<path d="M802.3 1155.7L810.9 1157.5 826.8 1148.6 818.2 1147.9Z"/>
<path d="M810.9 1157.5L819.5 1161.5 835.5 1151.5 826.8 1148.6Z"/>
<path d="M819.5 1161.5L828.2 1161.1 844.1 1156.6 835.5 1151.5Z"/>
<path d="M828.2 1161.1L836.8 1165.4 852.8 1157.6 844.1 1156.6Z"/>
<path d="M836.8 1165.4L845.5 1166.5 861.4 1160.3 852.8 1157.6Z"/>
<path d="M845.5 1166.5L854.1 1169.2 870 1161.5 861.4 1160.3Z"/>
<path d="M854.1 1169.2L862.8 1170 878.7 1163 870 1161.5Z"/>
<path d="M862.8 1170L871.4 1172.4 887.3 1163 878.7 1163Z"/>
<path d="M871.4 1172.4L880.1 1173.7 896 1165.3 887.3 1163Z"/>
<path d="M880.1 1173.7L888.7 1174.7 904.6 1166.4 896 1165.3Z"/>
<path d="M888.7 1174.7L897.3 1177.2 913.3 1169.9 904.6 1166.4Z"/>
<path d="M897.3 1177.2L906 1178.4 921.9 1170.2 913.3 1169.9Z"/>
<path d="M906 1178.4L914.6 1180.1 930.6 1172.4 921.9 1170.2Z"/>
<path d="M914.6 1180.1L923.3 1181.2 939.2 1174.2 930.6 1172.4Z"/>
<path d="M923.3 1181.2L931.9 1182.5 947.8 1176.4 939.2 1174.2Z"/>
<path d="M931.9 1182.5L940.6 1184.9 956.5 1178.3 947.8 1176.4Z"/>
<path d="M940.6 1184.9L949.2 1186.3 965.1 1179.5 956.5 1178.3Z"/>
<path d="M949.2 1186.3L957.9 1188.2 973.8 1179.8 965.1 1179.5Z"/>
<path d="M957.9 1188.2L966.5 1189.5 982.4 1182 973.8 1179.8Z"/>
<path d="M966.5 1189.5L975.1 1189.9 991.1 1184 982.4 1182Z"/>
<path d="M975.1 1189.9L983.8 1192.6 999.7 1185.5 991.1 1184Z"/>
<path d="M983.8 1192.6L992.4 1193.4 1008.4 1186.1 999.7 1185.5Z"/>
<path d="M992.4 1193.4L1001.1 1195.4 1017 1188.7 1008.4 1186.1Z"/>
<path d="M1001.1 1195.4L1009.7 1196.5 1025.7 1189.5 1017 1188.7Z"/>
<path d="M1009.7 1196.5L1018.4 1197 1034.3 1192.2 1025.7 1189.5Z"/>
<path d="M1018.4 1197L1027 1199.3 1042.9 1192 1034.3 1192.2Z"/>
<path d="M1027 1199.3L1035.7 1200.3 1051.6 1194.6 1042.9 1192Z"/>
<path d="M1035.7 1200.3L1044.3 1201.7 1060.2 1195 1051.6 1194.6Z"/>
<path d="M1044.3 1201.7L1052.9 1202.7 1068.9 1197.2 1060.2 1195Z"/>
<path d="M1052.9 1202.7L1061.6 1204.9 1077.5 1199.4 1068.9 1197.2Z"/>
<path d="M1061.6 1204.9L1070.2 1206.2 1086.2 1200.7 1077.5 1199.4Z"/>
<path d="M1070.2 1206.2L1078.9 1207.8 1094.8 1201.8 1086.2 1200.7Z"/>
<path d="M1078.9 1207.8L1087.5 1208.9 1103.5 1202.5 1094.8 1201.8Z"/>
<path d="M1087.5 1208.9L1096.2 1209.8 1112.1 1204.3 1103.5 1202.5Z"/>
<path d="M1096.2 1209.8L1104.8 1212.1 1120.7 1205.5 1112.1 1204.3Z"/>
<path d="M1104.8 1212.1L1113.5 1212.9 1129.4 1206.6 1120.7 1205.5Z"/>
<path d="M1113.5 1212.9L1122.1 1214.9 1138 1208.3 1129.4 1206.6Z"/>
<path d="M1122.1 1214.9L1130.7 1216 1146.7 1209.9 1138 1208.3Z"/>
<path d="M1130.7 1216L1139.4 1217.7 1155.3 1210.9 1146.7 1209.9Z"/>
<path d="M1139.4 1217.7L1148 1218.7 1164 1213 1155.3 1210.9Z"/>
<path d="M1148 1218.7L1156.7 1220.2 1172.6 1214 1164 1213Z"/>
<path d="M1156.7 1220.2L1165.3 1221.5 1181.3 1215.3 1172.6 1214Z"/>
<path d="M1165.3 1221.5L1174 1222.6 1189.9 1216.7 1181.3 1215.3Z"/>
<path d="M1174 1222.6L1182.6 1224.5 1198.5 1218.4 1189.9 1216.7Z"/>
<path d="M1182.6 1224.5L1191.3 1225.5 1207.2 1219.5 1198.5 1218.4Z"/>
<path d="M1191.3 1225.5L1199.9 1227.3 1215.8 1221.2 1207.2 1219.5Z"/>
<path d="M1199.9 1227.3L1208.5 1228.5 1224.5 1222.5 1215.8 1221.2Z"/>
<path d="M1208.5 1228.5L1217.2 1229.7 1233.1 1223.6 1224.5 1222.5Z"/>
<path d="M1217.2 1229.7L1225.8 1230.9 1241.8 1225.3 1233.1 1223.6Z"/>
<path d="M1234.5 1232.5L1243.1 1233.5 1259.1 1227.6 1250.4 1227Z"/>
<path d="M1243.1 1233.5L1251.8 1234.9 1267.7 1229.5 1259.1 1227.6Z"/>
<path d="M578.9 1123.6L587.5 1121.3 603.4 1098.1 594.8 1103.3Z" stroke="none"/>
<path d="M578.9 1123.6L587.5 1121.3" stroke="#06069a"/>
<path d="M587.5 1121.3L603.4 1098.1" stroke="#06069a"/>
<path d="M603.4 1098.1L594.8 1103.3" stroke="#0a0aab"/>
<path d="M594.8 1103.3L578.9 1123.6"/>
<path d="M587.5 1121.3L596.2 1117.4 612.1 1090 603.4 1098.1Z" stroke="none"/>
<path d="M587.5 1121.3L596.2 1117.4" stroke="#07079a"/>
<path d="M596.2 1117.4L612.1 1090" stroke="#07079a"/>
<path d="M612.1 1090L603.4 1098.1" stroke="#0d0dbb"/>
<path d="M603.4 1098.1L587.5 1121.3" stroke="#06069a"/>
<path d="M596.2 1117.4L604.8 1110.1 620.7 1075.8 612.1 1090Z" stroke="none"/>
<path d="M596.2 1117.4L604.8 1110.1" stroke="#0909ab"/>
<path d="M604.8 1110.1L620.7 1075.8" stroke="#0909ab"/>
<path d="M620.7 1075.8L612.1 1090" stroke="#1111cb"/>
<path d="M612.1 1090L596.2 1117.4" stroke="#07079a"/>
<path d="M604.8 1110.1L613.4 1095 629.4 1047.7 620.7 1075.8Z" stroke="none"/>
<path d="M604.8 1110.1L613.4 1095" stroke="#0e0ebb"/>
<path d="M613.4 1095L629.4 1047.7" stroke="#0e0ebb"/>
<path d="M629.4 1047.7L620.7 1075.8" stroke="#1919e9"/>
<path d="M620.7 1075.8L604.8 1110.1" stroke="#0909ab"/>
<path d="M613.4 1095L622.1 1052.7 638 970.4 629.4 1047.7Z" stroke="none"/>
<path d="M613.4 1095L622.1 1052.7" stroke="#1919e9"/>
<path d="M622.1 1052.7L638 970.4" stroke="#1919e9"/>
<path d="M638 970.4L629.4 1047.7" stroke="#1f6cff"/>
<path d="M629.4 1047.7L613.4 1095" stroke="#0e0ebb"/>
<path d="M622.1 1052.7L630.7 987.3 646.7 423.3 638 970.4Z" stroke="none"/>
<path d="M622.1 1052.7L630.7 987.3" stroke="#1f6cff"/>
<path d="M630.7 987.3L646.7 423.3" stroke="#1f6cff"/>
<path d="M646.7 423.3L638 970.4" stroke="#ff961f"/>
<path d="M638 970.4L622.1 1052.7" stroke="#1919e9"/>
<path d="M630.7 987.3L639.4 1043.3 655.3 942.3 646.7 423.3Z" stroke="none"/>
<path d="M630.7 987.3L639.4 1043.3" stroke="#1f34ff"/>
<path d="M639.4 1043.3L655.3 942.3" stroke="#1f34ff"/>
<path d="M655.3 942.3L646.7 423.3" stroke="#1f88ff"/>
<path d="M646.7 423.3L630.7 987.3" stroke="#1f6cff"/>
<path d="M639.4 1043.3L648 1094.2 663.9 1027.6 655.3 942.3Z" stroke="none"/>
<path d="M639.4 1043.3L648 1094.2" stroke="#0f0fbc"/>
<path d="M648 1094.2L663.9 1027.6" stroke="#0f0fbc"/>
<path d="M663.9 1027.6L655.3 942.3" stroke="#1f42ff"/>
<path d="M655.3 942.3L639.4 1043.3" stroke="#1f34ff"/>
<path d="M648 1094.2L656.7 1112.6 672.6 1067.6 663.9 1027.6Z" stroke="none"/>
<path d="M648 1094.2L656.7 1112.6" stroke="#0b0bab"/>
<path d="M656.7 1112.6L672.6 1067.6" stroke="#0b0bab"/>
<path d="M672.6 1067.6L663.9 1027.6" stroke="#1515da"/>
<path d="M663.9 1027.6L648 1094.2" stroke="#0f0fbc"/>
<path d="M656.7 1112.6L665.3 1122.9 681.2 1086.5 672.6 1067.6Z" stroke="none"/>
<path d="M656.7 1112.6L665.3 1122.9" stroke="#0808aa"/>
<path d="M665.3 1122.9L681.2 1086.5" stroke="#0808aa"/>
<path d="M681.2 1086.5L672.6 1067.6" stroke="#1010cb"/>
<path d="M672.6 1067.6L656.7 1112.6" stroke="#0b0bab"/>
<path d="M665.3 1122.9L674 1129.8 689.9 1098.8 681.2 1086.5Z" stroke="none"/>
<path d="M665.3 1122.9L674 1129.8" stroke="#07079a"/>
<path d="M674 1129.8L689.9 1098.8" stroke="#07079a"/>
<path d="M689.9 1098.8L681.2 1086.5" stroke="#0e0ebb"/>
<path d="M681.2 1086.5L665.3 1122.9" stroke="#0808aa"/>
<path d="M674 1129.8L682.6 1135 698.5 1107.7 689.9 1098.8Z" stroke="none"/>
<path d="M674 1129.8L682.6 1135" stroke="#06069a"/>
<path d="M682.6 1135L698.5 1107.7" stroke="#06069a"/>
<path d="M698.5 1107.7L689.9 1098.8" stroke="#0c0cab"/>
<path d="M689.9 1098.8L674 1129.8" stroke="#07079a"/>
<path d="M682.6 1135L691.2 1139.2 707.2 1114.5 698.5 1107.7Z" stroke="none"/>
<path d="M682.6 1135L691.2 1139.2" stroke="#05059a"/>
<path d="M691.2 1139.2L707.2 1114.5" stroke="#05059a"/>
<path d="M707.2 1114.5L698.5 1107.7" stroke="#0a0aab"/>
<path d="M698.5 1107.7L682.6 1135" stroke="#06069a"/>
<path d="M691.2 1139.2L699.9 1142.6 715.8 1120 707.2 1114.5Z" stroke="none"/>
<path d="M691.2 1139.2L699.9 1142.6"/>
<path d="M699.9 1142.6L715.8 1120"/>
<path d="M715.8 1120L707.2 1114.5" stroke="#0909aa"/>
<path d="M707.2 1114.5L691.2 1139.2" stroke="#05059a"/>
<path d="M699.9 1142.6L708.5 1145.7 724.5 1124.7 715.8 1120Z" stroke="none"/>
<path d="M699.9 1142.6L708.5 1145.7"/>
<path d="M708.5 1145.7L724.5 1124.7"/>
<path d="M724.5 1124.7L715.8 1120" stroke="#0808aa"/>
<path d="M715.8 1120L699.9 1142.6"/>
<path d="M708.5 1145.7L717.2 1148.4 733.1 1128.8 724.5 1124.7Z" stroke="none"/>
<path d="M708.5 1145.7L717.2 1148.4"/>
<path d="M717.2 1148.4L733.1 1128.8"/>
<path d="M733.1 1128.8L724.5 1124.7" stroke="#08089a"/>
<path d="M724.5 1124.7L708.5 1145.7"/>
<path d="M717.2 1148.4L725.8 1151.6 741.7 1133.7 733.1 1128.8Z" stroke="none"/>
<path d="M717.2 1148.4L725.8 1151.6"/>
<path d="M725.8 1151.6L741.7 1133.7"/>
<path d="M741.7 1133.7L733.1 1128.8" stroke="#07079a"/>
<path d="M733.1 1128.8L717.2 1148.4"/>
<path d="M725.8 1151.6L734.5 1154.4 750.4 1137.9 741.7 1133.7Z" stroke="none"/>
<path d="M725.8 1151.6L734.5 1154.4"/>
<path d="M734.5 1154.4L750.4 1137.9"/>
<path d="M750.4 1137.9L741.7 1133.7" stroke="#06069a"/>
<path d="M741.7 1133.7L725.8 1151.6"/>
<path d="M734.5 1154.4L743.1 1155.7 759 1144.6 750.4 1137.9Z"/>
<path d="M743.1 1155.7L751.8 1160.4 767.7 1143.1 759 1144.6Z" stroke="none"/>
<path d="M743.1 1155.7L751.8 1160.4"/>
<path d="M751.8 1160.4L767.7 1143.1"/>
<path d="M767.7 1143.1L759 1144.6" stroke="#05059a"/>
<path d="M759 1144.6L743.1 1155.7"/>
<path d="M751.8 1160.4L760.4 1162.8 776.3 1148.4 767.7 1143.1Z"/>
<path d="M760.4 1162.8L769 1163 785 1148.9 776.3 1148.4Z"/>
<path d="M769 1163L777.7 1165.1 793.6 1152.7 785 1148.9Z"/>
<path d="M777.7 1165.1L786.3 1166.1 802.3 1155.7 793.6 1152.7Z"/>
<path d="M786.3 1166.1L795 1169.3 810.9 1157.5 802.3 1155.7Z"/>
<path d="M795 1169.3L803.6 1171 819.5 1161.5 810.9 1157.5Z"/>
<path d="M803.6 1171L812.3 1173.5 828.2 1161.1 819.5 1161.5Z"/>
<path d="M812.3 1173.5L820.9 1173.4 836.8 1165.4 828.2 1161.1Z"/>
<path d="M820.9 1173.4L829.6 1175.8 845.5 1166.5 836.8 1165.4Z"/>
<path d="M829.6 1175.8L838.2 1178.1 854.1 1169.2 845.5 1166.5Z"/>
<path d="M838.2 1178.1L846.8 1179.1 862.8 1170 854.1 1169.2Z"/>
<path d="M846.8 1179.1L855.5 1180.7 871.4 1172.4 862.8 1170Z"/>
<path d="M855.5 1180.7L864.1 1181.4 880.1 1173.7 871.4 1172.4Z"/>
<path d="M864.1 1181.4L872.8 1183.6 888.7 1174.7 880.1 1173.7Z"/>
<path d="M872.8 1183.6L881.4 1185.6 897.3 1177.2 888.7 1174.7Z"/>
<path d="M881.4 1185.6L890.1 1187 906 1178.4 897.3 1177.2Z"/>
<path d="M890.1 1187L898.7 1188 914.6 1180.1 906 1178.4Z"/>
<path d="M898.7 1188L907.4 1189.5 923.3 1181.2 914.6 1180.1Z"/>
<path d="M907.4 1189.5L916 1190.5 931.9 1182.5 923.3 1181.2Z"/>
<path d="M916 1190.5L924.6 1192.7 940.6 1184.9 931.9 1182.5Z"/>
<path d="M924.6 1192.7L933.3 1193.5 949.2 1186.3 940.6 1184.9Z"/>
<path d="M933.3 1193.5L941.9 1195.5 957.9 1188.2 949.2 1186.3Z"/>
<path d="M941.9 1195.5L950.6 1196.1 966.5 1189.5 957.9 1188.2Z"/>
<path d="M950.6 1196.1L959.2 1197.9 975.1 1189.9 966.5 1189.5Z"/>
<path d="M959.2 1197.9L967.9 1199.4 983.8 1192.6 975.1 1189.9Z"/>
<path d="M967.9 1199.4L976.5 1200.5 992.4 1193.4 983.8 1192.6Z"/>
<path d="M976.5 1200.5L985.2 1201.8 1001.1 1195.4 992.4 1193.4Z"/>
<path d="M985.2 1201.8L993.8 1203.8 1009.7 1196.5 1001.1 1195.4Z"/>
<path d="M993.8 1203.8L1002.4 1205.2 1018.4 1197 1009.7 1196.5Z"/>
<path d="M1002.4 1205.2L1011.1 1206.5 1027 1199.3 1018.4 1197Z"/>
<path d="M1011.1 1206.5L1019.7 1207.6 1035.7 1200.3 1027 1199.3Z"/>
<path d="M1019.7 1207.6L1028.4 1209 1044.3 1201.7 1035.7 1200.3Z"/>
<path d="M1028.4 1209L1037 1210.3 1052.9 1202.7 1044.3 1201.7Z"/>
<path d="M1037 1210.3L1045.7 1211.5 1061.6 1204.9 1052.9 1202.7Z"/>
<path d="M1045.7 1211.5L1054.3 1212.9 1070.2 1206.2 1061.6 1204.9Z"/>
<path d="M1054.3 1212.9L1063 1214.5 1078.9 1207.8 1070.2 1206.2Z"/>
<path d="M1063 1214.5L1071.6 1215.8 1087.5 1208.9 1078.9 1207.8Z"/>
<path d="M1071.6 1215.8L1080.2 1217.1 1096.2 1209.8 1087.5 1208.9Z"/>
<path d="M1080.2 1217.1L1088.9 1218.7 1104.8 1212.1 1096.2 1209.8Z"/>
<path d="M1088.9 1218.7L1097.5 1220.1 1113.5 1212.9 1104.8 1212.1Z"/>
<path d="M1097.5 1220.1L1106.2 1221.5 1122.1 1214.9 1113.5 1212.9Z"/>
<path d="M1106.2 1221.5L1114.8 1222.5 1130.7 1216 1122.1 1214.9Z"/>
<path d="M1114.8 1222.5L1123.5 1224 1139.4 1217.7 1130.7 1216Z"/>
<path d="M1123.5 1224L1132.1 1225.3 1148 1218.7 1139.4 1217.7Z"/>
<path d="M1132.1 1225.3L1140.8 1226.6 1156.7 1220.2 1148 1218.7Z"/>
<path d="M1149.4 1227.9L1158 1229.4 1174 1222.6 1165.3 1221.5Z"/>
<path d="M1158 1229.4L1166.7 1230.9 1182.6 1224.5 1174 1222.6Z"/>
<path d="M562.9 1146.5L571.6 1147.6 587.5 1121.3 578.9 1123.6Z" stroke="none"/>
<path d="M562.9 1146.5L571.6 1147.6"/>
<path d="M571.6 1147.6L587.5 1121.3"/>
<path d="M587.5 1121.3L578.9 1123.6" stroke="#06069a"/>
<path d="M578.9 1123.6L562.9 1146.5"/>
<path d="M571.6 1147.6L580.2 1148.6 596.2 1117.4 587.5 1121.3Z" stroke="none"/>
<path d="M571.6 1147.6L580.2 1148.6"/>
<path d="M580.2 1148.6L596.2 1117.4"/>
<path d="M596.2 1117.4L587.5 1121.3" stroke="#07079a"/>
<path d="M587.5 1121.3L571.6 1147.6"/>
<path d="M580.2 1148.6L588.9 1149.4 604.8 1110.1 596.2 1117.4Z" stroke="none"/>
<path d="M580.2 1148.6L588.9 1149.4"/>
<path d="M588.9 1149.4L604.8 1110.1"/>
<path d="M604.8 1110.1L596.2 1117.4" stroke="#0909ab"/>
<path d="M596.2 1117.4L580.2 1148.6"/>
<path d="M588.9 1149.4L597.5 1149.8 613.4 1095 604.8 1110.1Z" stroke="none"/>
<path d="M588.9 1149.4L597.5 1149.8"/>
<path d="M597.5 1149.8L613.4 1095"/>
<path d="M613.4 1095L604.8 1110.1" stroke="#0e0ebb"/>
<path d="M604.8 1110.1L588.9 1149.4"/>
<path d="M597.5 1149.8L606.2 1148.5 622.1 1052.7 613.4 1095Z" stroke="none"/>
<path d="M597.5 1149.8L606.2 1148.5"/>
<path d="M606.2 1148.5L622.1 1052.7"/>
<path d="M622.1 1052.7L613.4 1095" stroke="#1919e9"/>
<path d="M613.4 1095L597.5 1149.8"/>
<path d="M606.2 1148.5L614.8 1135.9 630.7 987.3 622.1 1052.7Z" stroke="none"/>
<path d="M606.2 1148.5L614.8 1135.9" stroke="#050599"/>
<path d="M614.8 1135.9L630.7 987.3" stroke="#050599"/>
<path d="M630.7 987.3L622.1 1052.7" stroke="#1f6cff"/>
<path d="M622.1 1052.7L606.2 1148.5"/>
<path d="M614.8 1135.9L623.4 1144.3 639.4 1043.3 630.7 987.3Z" stroke="none"/>
<path d="M614.8 1135.9L623.4 1144.3"/>
<path d="M623.4 1144.3L639.4 1043.3"/>
<path d="M639.4 1043.3L630.7 987.3" stroke="#1f34ff"/>
<path d="M630.7 987.3L614.8 1135.9" stroke="#050599"/>
<path d="M623.4 1144.3L632.1 1151.2 648 1094.2 639.4 1043.3Z" stroke="none"/>
<path d="M623.4 1144.3L632.1 1151.2"/>
<path d="M632.1 1151.2L648 1094.2"/>
<path d="M648 1094.2L639.4 1043.3" stroke="#0f0fbc"/>
<path d="M639.4 1043.3L623.4 1144.3"/>
<path d="M632.1 1151.2L640.7 1154.6 656.7 1112.6 648 1094.2Z" stroke="none"/>
<path d="M632.1 1151.2L640.7 1154.6"/>
<path d="M640.7 1154.6L656.7 1112.6"/>
<path d="M656.7 1112.6L648 1094.2" stroke="#0b0bab"/>
<path d="M648 1094.2L632.1 1151.2"/>
<path d="M640.7 1154.6L649.4 1157 665.3 1122.9 656.7 1112.6Z" stroke="none"/>
<path d="M640.7 1154.6L649.4 1157"/>
<path d="M649.4 1157L665.3 1122.9"/>
<path d="M665.3 1122.9L656.7 1112.6" stroke="#0808aa"/>
<path d="M656.7 1112.6L640.7 1154.6"/>
<path d="M649.4 1157L658 1158.9 674 1129.8 665.3 1122.9Z" stroke="none"/>
<path d="M649.4 1157L658 1158.9"/>
<path d="M658 1158.9L674 1129.8"/>
<path d="M674 1129.8L665.3 1122.9" stroke="#07079a"/>
<path d="M665.3 1122.9L649.4 1157"/>
<path d="M658 1158.9L666.7 1160.7 682.6 1135 674 1129.8Z" stroke="none"/>
<path d="M658 1158.9L666.7 1160.7"/>
<path d="M666.7 1160.7L682.6 1135"/>
<path d="M682.6 1135L674 1129.8" stroke="#06069a"/>
<path d="M674 1129.8L658 1158.9"/>
<path d="M666.7 1160.7L675.3 1162.4 691.2 1139.2 682.6 1135Z" stroke="none"/>
<path d="M666.7 1160.7L675.3 1162.4"/>
<path d="M675.3 1162.4L691.2 1139.2"/>
<path d="M691.2 1139.2L682.6 1135" stroke="#05059a"/>
<path d="M682.6 1135L666.7 1160.7"/>
<path d="M675.3 1162.4L684 1164 699.9 1142.6 691.2 1139.2Z"/>
<path d="M684 1164L692.6 1165.5 708.5 1145.7 699.9 1142.6Z"/>
<path d="M692.6 1165.5L701.2 1167 717.2 1148.4 708.5 1145.7Z"/>
<path d="M701.2 1167L709.9 1168.5 725.8 1151.6 717.2 1148.4Z"/>
<path d="M709.9 1168.5L718.5 1170 734.5 1154.4 725.8 1151.6Z"/>
<path d="M718.5 1170L727.2 1171.6 743.1 1155.7 734.5 1154.4Z"/>
<path d="M727.2 1171.6L735.8 1172.7 751.8 1160.4 743.1 1155.7Z"/>
<path d="M735.8 1172.7L744.5 1174.2 760.4 1162.8 751.8 1160.4Z"/>
<path d="M744.5 1174.2L753.1 1175.6 769 1163 760.4 1162.8Z"/>
<path d="M753.1 1175.6L761.8 1177.2 777.7 1165.1 769 1163Z"/>
<path d="M761.8 1177.2L770.4 1178.6 786.3 1166.1 777.7 1165.1Z"/>
<path d="M770.4 1178.6L779 1179.8 795 1169.3 786.3 1166.1Z"/>
<path d="M779 1179.8L787.7 1181.2 803.6 1171 795 1169.3Z"/>
<path d="M787.7 1181.2L796.3 1182.6 812.3 1173.5 803.6 1171Z"/>
<path d="M796.3 1182.6L805 1184 820.9 1173.4 812.3 1173.5Z"/>
<path d="M805 1184L813.6 1185.2 829.6 1175.8 820.9 1173.4Z"/>
<path d="M813.6 1185.2L822.3 1186.7 838.2 1178.1 829.6 1175.8Z"/>
<path d="M822.3 1186.7L830.9 1188.1 846.8 1179.1 838.2 1178.1Z"/>
<path d="M830.9 1188.1L839.6 1189.4 855.5 1180.7 846.8 1179.1Z"/>
<path d="M839.6 1189.4L848.2 1190.8 864.1 1181.4 855.5 1180.7Z"/>
<path d="M848.2 1190.8L856.9 1192.1 872.8 1183.6 864.1 1181.4Z"/>
<path d="M856.9 1192.1L865.5 1193.5 881.4 1185.6 872.8 1183.6Z"/>
<path d="M865.5 1193.5L874.1 1194.7 890.1 1187 881.4 1185.6Z"/>
<path d="M874.1 1194.7L882.8 1196.1 898.7 1188 890.1 1187Z"/>
<path d="M882.8 1196.1L891.4 1197.4 907.4 1189.5 898.7 1188Z"/>
<path d="M891.4 1197.4L900.1 1198.8 916 1190.5 907.4 1189.5Z"/>
<path d="M900.1 1198.8L908.7 1200.1 924.6 1192.7 916 1190.5Z"/>
<path d="M908.7 1200.1L917.4 1201.4 933.3 1193.5 924.6 1192.7Z"/>
<path d="M917.4 1201.4L926 1202.8 941.9 1195.5 933.3 1193.5Z"/>
<path d="M926 1202.8L934.7 1204.1 950.6 1196.1 941.9 1195.5Z"/>
<path d="M934.7 1204.1L943.3 1205.5 959.2 1197.9 950.6 1196.1Z"/>
<path d="M572.9 1157L581.6 1158.3 597.5 1149.8 588.9 1149.4Z"/>
<path d="M581.6 1158.3L590.2 1159.7 606.2 1148.5 597.5 1149.8Z"/>
<path d="M590.2 1159.7L598.9 1161 614.8 1135.9 606.2 1148.5Z" stroke="none"/>
<path d="M590.2 1159.7L598.9 1161"/>
<path d="M598.9 1161L614.8 1135.9"/>
<path d="M614.8 1135.9L606.2 1148.5" stroke="#050599"/>
<path d="M606.2 1148.5L590.2 1159.7"/>
<path d="M598.9 1161L607.5 1162.3 623.4 1144.3 614.8 1135.9Z"/>
<path d="M607.5 1162.3L616.2 1163.6 632.1 1151.2 623.4 1144.3Z"/>
<path d="M616.2 1163.6L624.8 1164.9 640.7 1154.6 632.1 1151.2Z"/>
<path d="M624.8 1164.9L633.5 1166.3 649.4 1157 640.7 1154.6Z"/>
<path d="M633.5 1166.3L642.1 1167.6 658 1158.9 649.4 1157Z"/>
<path d="M642.1 1167.6L650.7 1168.9 666.7 1160.7 658 1158.9Z"/>
<path d="M650.7 1168.9L659.4 1170.2 675.3 1162.4 666.7 1160.7Z"/>
</g>
<g filter="url(#b3)" fill="#d4daff">
<path d="M828.9 1174.5h5.4v5.4h-5.4zM834.3 1158.3h5.4v5.4h-5.4zM839.7 1163.7h5.4v5.4h-5.4zM839.7 1169.1h5.4v5.4h-5.4zM855.9 1163.7h5.4v5.4h-5.4zM855.9 1179.9h5.4v5.4h-5.4zM861.3 1163.7h5.4v5.4h-5.4zM861.3 1179.9h5.4v5.4h-5.4zM861.3 1185.3h5.4v5.4h-5.4zM866.7 1185.3h5.4v5.4h-5.4zM877.5 1169.1h5.4v5.4h-5.4zM877.5 1185.3h5.4v5.4h-5.4zM882.9 1190.7h5.4v5.4h-5.4zM888.3 1169.1h5.4v5.4h-5.4zM893.7 1169.1h5.4v5.4h-5.4zM899.1 1174.5h5.4v5.4h-5.4zM904.5 1169.1h5.4v5.4h-5.4zM904.5 1174.5h5.4v5.4h-5.4zM904.5 1185.3h5.4v5.4h-5.4zM909.9 1190.7h5.4v5.4h-5.4zM915.3 1174.5h5.4v5.4h-5.4zM936.9 1174.5h5.4v5.4h-5.4zM953.1 1185.3h5.4v5.4h-5.4zM958.5 1179.9h5.4v5.4h-5.4zM958.5 1185.3h5.4v5.4h-5.4zM963.9 1179.9h5.4v5.4h-5.4zM969.3 1174.5h5.4v5.4h-5.4zM974.7 1196.1h5.4v5.4h-5.4zM974.7 1201.5h5.4v5.4h-5.4zM985.5 1185.3h5.4v5.4h-5.4zM990.9 1206.9h5.4v5.4h-5.4zM1001.7 1196.1h5.4v5.4h-5.4zM1007.1 1179.9h5.4v5.4h-5.4zM1007.1 1185.3h5.4v5.4h-5.4zM1007.1 1201.5h5.4v5.4h-5.4zM1012.5 1201.5h5.4v5.4h-5.4zM1023.3 1212.3h5.4v5.4h-5.4zM1034.1 1196.1h5.4v5.4h-5.4zM1039.5 1206.9h5.4v5.4h-5.4zM1061.1 1212.3h5.4v5.4h-5.4zM1066.5 1217.7h5.4v5.4h-5.4zM1071.9 1217.7h5.4v5.4h-5.4zM1077.3 1190.7h5.4v5.4h-5.4zM1082.7 1196.1h5.4v5.4h-5.4zM1082.7 1223.1h5.4v5.4h-5.4zM1088.1 1201.5h5.4v5.4h-5.4zM1088.1 1223.1h5.4v5.4h-5.4zM1104.3 1217.7h5.4v5.4h-5.4zM1115.1 1223.1h5.4v5.4h-5.4zM1120.5 1206.9h5.4v5.4h-5.4zM1120.5 1212.3h5.4v5.4h-5.4zM1131.3 1206.9h5.4v5.4h-5.4zM1131.3 1217.7h5.4v5.4h-5.4zM1136.7 1233.9h5.4v5.4h-5.4zM1142.1 1206.9h5.4v5.4h-5.4zM1152.9 1223.1h5.4v5.4h-5.4zM1152.9 1228.5h5.4v5.4h-5.4zM1158.3 1212.3h5.4v5.4h-5.4zM1163.7 1217.7h5.4v5.4h-5.4zM1174.5 1223.1h5.4v5.4h-5.4zM1174.5 1228.5h5.4v5.4h-5.4zM1179.9 1212.3h5.4v5.4h-5.4zM1185.3 1217.7h5.4v5.4h-5.4zM1196.1 1223.1h5.4v5.4h-5.4zM1196.1 1233.9h5.4v5.4h-5.4zM1201.5 1239.3h5.4v5.4h-5.4zM1206.9 1223.1h5.4v5.4h-5.4zM1206.9 1233.9h5.4v5.4h-5.4zM1212.3 1233.9h5.4v5.4h-5.4zM1217.7 1223.1h5.4v5.4h-5.4zM1217.7 1233.9h5.4v5.4h-5.4zM1223.1 1244.7h5.4v5.4h-5.4zM1239.3 1239.3h5.4v5.4h-5.4zM1260.9 1228.5h5.4v5.4h-5.4zM1260.9 1239.3h5.4v5.4h-5.4zM1260.9 1244.7h5.4v5.4h-5.4zM1266.3 1228.5h5.4v5.4h-5.4zM1266.3 1244.7h5.4v5.4h-5.4zM1271.7 1244.7h5.4v5.4h-5.4zM1282.5 1233.9h5.4v5.4h-5.4zM1287.9 1244.7h5.4v5.4h-5.4zM1293.3 1233.9h5.4v5.4h-5.4zM1314.9 1250.1h5.4v5.4h-5.4zM1320.3 1239.3h5.4v5.4h-5.4zM1320.3 1260.9h5.4v5.4h-5.4zM1325.7 1244.7h5.4v5.4h-5.4zM1331.1 1239.3h5.4v5.4h-5.4zM1336.5 1255.5h5.4v5.4h-5.4zM1341.9 1244.7h5.4v5.4h-5.4zM1341.9 1260.9h5.4v5.4h-5.4zM1352.7 1244.7h5.4v5.4h-5.4zM1358.1 1239.3h5.4v5.4h-5.4zM1374.3 1250.1h5.4v5.4h-5.4zM1390.5 1255.5h5.4v5.4h-5.4zM1395.9 1266.3h5.4v5.4h-5.4zM1401.3 1260.9h5.4v5.4h-5.4zM1406.7 1260.9h5.4v5.4h-5.4zM1422.9 1266.3h5.4v5.4h-5.4zM1422.9 1271.7h5.4v5.4h-5.4zM1428.3 1260.9h5.4v5.4h-5.4zM1428.3 1266.3h5.4v5.4h-5.4zM1439.1 1271.7h5.4v5.4h-5.4zM1444.5 1255.5h5.4v5.4h-5.4zM1444.5 1277.1h5.4v5.4h-5.4zM1460.7 1266.3h5.4v5.4h-5.4zM1466.1 1277.1h5.4v5.4h-5.4zM1471.5 1260.9h5.4v5.4h-5.4zM1476.9 1260.9h5.4v5.4h-5.4zM1482.3 1277.1h5.4v5.4h-5.4zM1487.7 1260.9h5.4v5.4h-5.4zM1487.7 1271.7h5.4v5.4h-5.4zM1493.1 1260.9h5.4v5.4h-5.4zM1503.9 1277.1h5.4v5.4h-5.4zM1509.3 1277.1h5.4v5.4h-5.4zM1514.7 1277.1h5.4v5.4h-5.4zM1514.7 1282.5h5.4v5.4h-5.4zM1525.5 1271.7h5.4v5.4h-5.4zM1530.9 1271.7h5.4v5.4h-5.4zM1541.7 1271.7h5.4v5.4h-5.4zM1541.7 1282.5h5.4v5.4h-5.4zM1547.1 1266.3h5.4v5.4h-5.4zM1547.1 1282.5h5.4v5.4h-5.4zM1552.5 1277.1h5.4v5.4h-5.4zM1552.5 1293.3h5.4v5.4h-5.4zM1563.3 1277.1h5.4v5.4h-5.4zM1563.3 1287.9h5.4v5.4h-5.4zM1568.7 1277.1h5.4v5.4h-5.4zM1574.1 1271.7h5.4v5.4h-5.4zM1574.1 1277.1h5.4v5.4h-5.4zM1574.1 1282.5h5.4v5.4h-5.4zM1574.1 1287.9h5.4v5.4h-5.4zM1584.9 1293.3h5.4v5.4h-5.4zM1590.3 1287.9h5.4v5.4h-5.4zM1595.7 1293.3h5.4v5.4h-5.4zM1601.1 1287.9h5.4v5.4h-5.4zM1601.1 1293.3h5.4v5.4h-5.4zM1601.1 1298.7h5.4v5.4h-5.4zM1611.9 1293.3h5.4v5.4h-5.4zM1617.3 1287.9h5.4v5.4h-5.4zM1622.7 1287.9h5.4v5.4h-5.4zM1622.7 1293.3h5.4v5.4h-5.4zM1628.1 1282.5h5.4v5.4h-5.4zM1628.1 1287.9h5.4v5.4h-5.4zM1628.1 1293.3h5.4v5.4h-5.4zM1633.5 1287.9h5.4v5.4h-5.4zM1638.9 1298.7h5.4v5.4h-5.4zM1644.3 1293.3h5.4v5.4h-5.4zM1649.7 1282.5h5.4v5.4h-5.4zM1649.7 1293.3h5.4v5.4h-5.4zM1655.1 1287.9h5.4v5.4h-5.4zM1655.1 1298.7h5.4v5.4h-5.4zM1660.5 1304.1h5.4v5.4h-5.4zM1676.7 1298.7h5.4v5.4h-5.4zM1676.7 1304.1h5.4v5.4h-5.4zM1682.1 1309.5h5.4v5.4h-5.4zM1687.5 1304.1h5.4v5.4h-5.4zM1698.3 1304.1h5.4v5.4h-5.4zM1698.3 1309.5h5.4v5.4h-5.4zM1709.1 1298.7h5.4v5.4h-5.4zM537.3 1179.9h5.4v5.4h-5.4zM553.5 1174.5h5.4v5.4h-5.4zM569.7 1169.1h5.4v5.4h-5.4zM585.9 1163.7h5.4v5.4h-5.4zM602.1 1158.3h5.4v5.4h-5.4zM618.3 1152.9h5.4v5.4h-5.4zM715.5 1120.5h5.4v5.4h-5.4zM726.3 1115.1h5.4v5.4h-5.4zM742.5 1109.7h5.4v5.4h-5.4zM758.7 1104.3h5.4v5.4h-5.4zM774.9 1098.9h5.4v5.4h-5.4z" fill-opacity="0.14"/>
<path d="M834.3 1169.1h5.4v5.4h-5.4zM839.7 1174.5h5.4v5.4h-5.4zM839.7 1179.9h5.4v5.4h-5.4zM845.1 1169.1h5.4v5.4h-5.4zM845.1 1174.5h5.4v5.4h-5.4zM850.5 1169.1h5.4v5.4h-5.4zM861.3 1174.5h5.4v5.4h-5.4zM866.7 1169.1h5.4v5.4h-5.4zM866.7 1179.9h5.4v5.4h-5.4zM872.1 1174.5h5.4v5.4h-5.4zM877.5 1179.9h5.4v5.4h-5.4zM904.5 1179.9h5.4v5.4h-5.4zM909.9 1185.3h5.4v5.4h-5.4zM915.3 1179.9h5.4v5.4h-5.4zM915.3 1190.7h5.4v5.4h-5.4zM920.7 1190.7h5.4v5.4h-5.4zM926.1 1190.7h5.4v5.4h-5.4zM931.5 1185.3h5.4v5.4h-5.4zM936.9 1179.9h5.4v5.4h-5.4zM936.9 1185.3h5.4v5.4h-5.4zM942.3 1179.9h5.4v5.4h-5.4zM942.3 1185.3h5.4v5.4h-5.4zM947.7 1190.7h5.4v5.4h-5.4zM958.5 1196.1h5.4v5.4h-5.4zM969.3 1185.3h5.4v5.4h-5.4zM969.3 1190.7h5.4v5.4h-5.4zM969.3 1196.1h5.4v5.4h-5.4zM974.7 1190.7h5.4v5.4h-5.4zM980.1 1185.3h5.4v5.4h-5.4zM985.5 1196.1h5.4v5.4h-5.4zM990.9 1201.5h5.4v5.4h-5.4zM1001.7 1201.5h5.4v5.4h-5.4zM1007.1 1190.7h5.4v5.4h-5.4zM1017.9 1196.1h5.4v5.4h-5.4zM1017.9 1201.5h5.4v5.4h-5.4zM1017.9 1206.9h5.4v5.4h-5.4zM1023.3 1196.1h5.4v5.4h-5.4zM1023.3 1206.9h5.4v5.4h-5.4zM1028.7 1206.9h5.4v5.4h-5.4zM1044.9 1206.9h5.4v5.4h-5.4zM1050.3 1196.1h5.4v5.4h-5.4zM1050.3 1201.5h5.4v5.4h-5.4zM1050.3 1206.9h5.4v5.4h-5.4zM1066.5 1201.5h5.4v5.4h-5.4zM1066.5 1206.9h5.4v5.4h-5.4zM1071.9 1201.5h5.4v5.4h-5.4zM1071.9 1212.3h5.4v5.4h-5.4zM1077.3 1206.9h5.4v5.4h-5.4zM1077.3 1212.3h5.4v5.4h-5.4zM1082.7 1201.5h5.4v5.4h-5.4zM1082.7 1206.9h5.4v5.4h-5.4zM1082.7 1212.3h5.4v5.4h-5.4zM1088.1 1212.3h5.4v5.4h-5.4zM1088.1 1217.7h5.4v5.4h-5.4zM1098.9 1217.7h5.4v5.4h-5.4zM1104.3 1206.9h5.4v5.4h-5.4zM1104.3 1212.3h5.4v5.4h-5.4zM1109.7 1212.3h5.4v5.4h-5.4zM1120.5 1217.7h5.4v5.4h-5.4zM1125.9 1223.1h5.4v5.4h-5.4zM1131.3 1212.3h5.4v5.4h-5.4zM1136.7 1212.3h5.4v5.4h-5.4zM1136.7 1217.7h5.4v5.4h-5.4zM1142.1 1212.3h5.4v5.4h-5.4zM1142.1 1223.1h5.4v5.4h-5.4zM1147.5 1212.3h5.4v5.4h-5.4zM1147.5 1217.7h5.4v5.4h-5.4zM1158.3 1217.7h5.4v5.4h-5.4zM1179.9 1228.5h5.4v5.4h-5.4zM1201.5 1228.5h5.4v5.4h-5.4zM1217.7 1228.5h5.4v5.4h-5.4zM1228.5 1233.9h5.4v5.4h-5.4zM1233.9 1239.3h5.4v5.4h-5.4zM1255.5 1233.9h5.4v5.4h-5.4zM1255.5 1239.3h5.4v5.4h-5.4zM1271.7 1239.3h5.4v5.4h-5.4zM1287.9 1239.3h5.4v5.4h-5.4zM1293.3 1239.3h5.4v5.4h-5.4zM1298.7 1244.7h5.4v5.4h-5.4zM1304.1 1244.7h5.4v5.4h-5.4zM1309.5 1250.1h5.4v5.4h-5.4zM1314.9 1244.7h5.4v5.4h-5.4zM1331.1 1244.7h5.4v5.4h-5.4zM1331.1 1250.1h5.4v5.4h-5.4zM1336.5 1250.1h5.4v5.4h-5.4zM1347.3 1244.7h5.4v5.4h-5.4zM1347.3 1250.1h5.4v5.4h-5.4zM1358.1 1244.7h5.4v5.4h-5.4zM1358.1 1250.1h5.4v5.4h-5.4zM1374.3 1255.5h5.4v5.4h-5.4zM1374.3 1260.9h5.4v5.4h-5.4zM1379.7 1250.1h5.4v5.4h-5.4zM1379.7 1255.5h5.4v5.4h-5.4zM1385.1 1260.9h5.4v5.4h-5.4zM1390.5 1260.9h5.4v5.4h-5.4zM1395.9 1255.5h5.4v5.4h-5.4zM1401.3 1255.5h5.4v5.4h-5.4zM1406.7 1250.1h5.4v5.4h-5.4zM1406.7 1255.5h5.4v5.4h-5.4zM1417.5 1260.9h5.4v5.4h-5.4zM1428.3 1255.5h5.4v5.4h-5.4zM1433.7 1266.3h5.4v5.4h-5.4zM1439.1 1255.5h5.4v5.4h-5.4zM1439.1 1260.9h5.4v5.4h-5.4zM1444.5 1266.3h5.4v5.4h-5.4zM1455.3 1260.9h5.4v5.4h-5.4zM1455.3 1266.3h5.4v5.4h-5.4zM1455.3 1271.7h5.4v5.4h-5.4zM1466.1 1260.9h5.4v5.4h-5.4zM1482.3 1271.7h5.4v5.4h-5.4zM1503.9 1271.7h5.4v5.4h-5.4zM1509.3 1271.7h5.4v5.4h-5.4zM1525.5 1277.1h5.4v5.4h-5.4zM1530.9 1277.1h5.4v5.4h-5.4zM1536.3 1271.7h5.4v5.4h-5.4zM1536.3 1277.1h5.4v5.4h-5.4zM1563.3 1282.5h5.4v5.4h-5.4zM1579.5 1277.1h5.4v5.4h-5.4zM1579.5 1282.5h5.4v5.4h-5.4zM1584.9 1277.1h5.4v5.4h-5.4zM1584.9 1282.5h5.4v5.4h-5.4zM1606.5 1287.9h5.4v5.4h-5.4zM1611.9 1287.9h5.4v5.4h-5.4zM1655.1 1293.3h5.4v5.4h-5.4zM1671.3 1298.7h5.4v5.4h-5.4zM1682.1 1298.7h5.4v5.4h-5.4zM1687.5 1298.7h5.4v5.4h-5.4zM1709.1 1304.1h5.4v5.4h-5.4z" fill-opacity="0.24"/>
<path d="M828.9 1169.1h5.4v5.4h-5.4zM834.3 1163.7h5.4v5.4h-5.4zM850.5 1174.5h5.4v5.4h-5.4zM850.5 1179.9h5.4v5.4h-5.4zM866.7 1174.5h5.4v5.4h-5.4zM882.9 1174.5h5.4v5.4h-5.4zM882.9 1179.9h5.4v5.4h-5.4zM888.3 1185.3h5.4v5.4h-5.4zM893.7 1179.9h5.4v5.4h-5.4zM893.7 1185.3h5.4v5.4h-5.4zM899.1 1179.9h5.4v5.4h-5.4zM926.1 1185.3h5.4v5.4h-5.4zM942.3 1190.7h5.4v5.4h-5.4zM953.1 1190.7h5.4v5.4h-5.4zM958.5 1190.7h5.4v5.4h-5.4zM963.9 1190.7h5.4v5.4h-5.4zM980.1 1190.7h5.4v5.4h-5.4zM996.3 1190.7h5.4v5.4h-5.4zM1012.5 1196.1h5.4v5.4h-5.4zM1023.3 1201.5h5.4v5.4h-5.4zM1028.7 1201.5h5.4v5.4h-5.4zM1034.1 1201.5h5.4v5.4h-5.4zM1039.5 1201.5h5.4v5.4h-5.4zM1044.9 1201.5h5.4v5.4h-5.4zM1055.7 1206.9h5.4v5.4h-5.4zM1061.1 1201.5h5.4v5.4h-5.4zM1093.5 1212.3h5.4v5.4h-5.4zM1093.5 1217.7h5.4v5.4h-5.4zM1115.1 1212.3h5.4v5.4h-5.4zM1125.9 1217.7h5.4v5.4h-5.4zM1152.9 1217.7h5.4v5.4h-5.4zM1169.1 1223.1h5.4v5.4h-5.4zM1179.9 1223.1h5.4v5.4h-5.4zM1190.7 1223.1h5.4v5.4h-5.4zM1196.1 1228.5h5.4v5.4h-5.4zM1212.3 1228.5h5.4v5.4h-5.4zM1223.1 1228.5h5.4v5.4h-5.4zM1228.5 1228.5h5.4v5.4h-5.4zM1233.9 1233.9h5.4v5.4h-5.4zM1277.1 1239.3h5.4v5.4h-5.4zM1298.7 1239.3h5.4v5.4h-5.4zM1309.5 1244.7h5.4v5.4h-5.4zM1320.3 1244.7h5.4v5.4h-5.4zM1336.5 1244.7h5.4v5.4h-5.4zM1352.7 1250.1h5.4v5.4h-5.4zM1368.9 1250.1h5.4v5.4h-5.4zM1385.1 1255.5h5.4v5.4h-5.4zM1422.9 1260.9h5.4v5.4h-5.4zM1493.1 1271.7h5.4v5.4h-5.4zM1520.1 1277.1h5.4v5.4h-5.4z" fill-opacity="0.36"/>
<path d="M855.9 1174.5h5.4v5.4h-5.4zM915.3 1185.3h5.4v5.4h-5.4z" fill-opacity="0.5"/>
</g>
<g filter="url(#b2)" class="tl">
<text x="176" y="1268.0" text-anchor="end">0</text>
<text x="176" y="1058.0" text-anchor="end">2</text>
<text x="176" y="848.0" text-anchor="end">4</text>
<text x="176" y="638.0" text-anchor="end">6</text>
<text x="176" y="428.0" text-anchor="end">8</text>
<text x="176" y="218.0" text-anchor="end">10</text>
<text x="176.5" y="1330.0" text-anchor="end" style="letter-spacing:-3px">300</text>
<text x="360.9" y="1358.2" text-anchor="end" style="letter-spacing:-3px">200</text>
<text x="545.3" y="1386.3" text-anchor="end" style="letter-spacing:-3px">100</text>
<text x="738.2" y="1414.5" text-anchor="end" style="letter-spacing:0px">0</text>
<text x="921.7" y="1442.7" text-anchor="end" style="letter-spacing:-1.2px">-100</text>
<text x="1106.1" y="1470.8" text-anchor="end" style="letter-spacing:-1.2px">-200</text>
<text x="1290.5" y="1499.0" text-anchor="end" style="letter-spacing:-1.2px">-300</text>
<text x="2090.0" y="1255.5">50</text>
<text x="1929.5" y="1309.1">40</text>
<text x="1769.0" y="1362.7">30</text>
<text x="1608.5" y="1416.3">20</text>
<text x="1448.0" y="1469.9">10</text>
<text x="82.5" y="112" style="font-size:61px">×</text><text x="122.5" y="109">10</text>
<text x="185" y="81" style="font-size:47px">5</text>
</g>
<g class="ax">
<text x="449.5" y="1529" textLength="251.5" lengthAdjust="spacingAndGlyphs">Velocity</text>
<text x="720" y="1529" textLength="156" lengthAdjust="spacingAndGlyphs">(m/s)</text>
<text x="1676" y="1486" textLength="193" lengthAdjust="spacingAndGlyphs">Range</text>
<text x="1884.5" y="1486" textLength="123" lengthAdjust="spacingAndGlyphs">unit</text>
<g transform="translate(79,962.5) rotate(-90)">
<text x="0" y="0" textLength="243" lengthAdjust="spacingAndGlyphs">VSMTD</text>
<text x="266" y="0" textLength="204" lengthAdjust="spacingAndGlyphs">output</text>
</g></g>
</svg></body></html>
